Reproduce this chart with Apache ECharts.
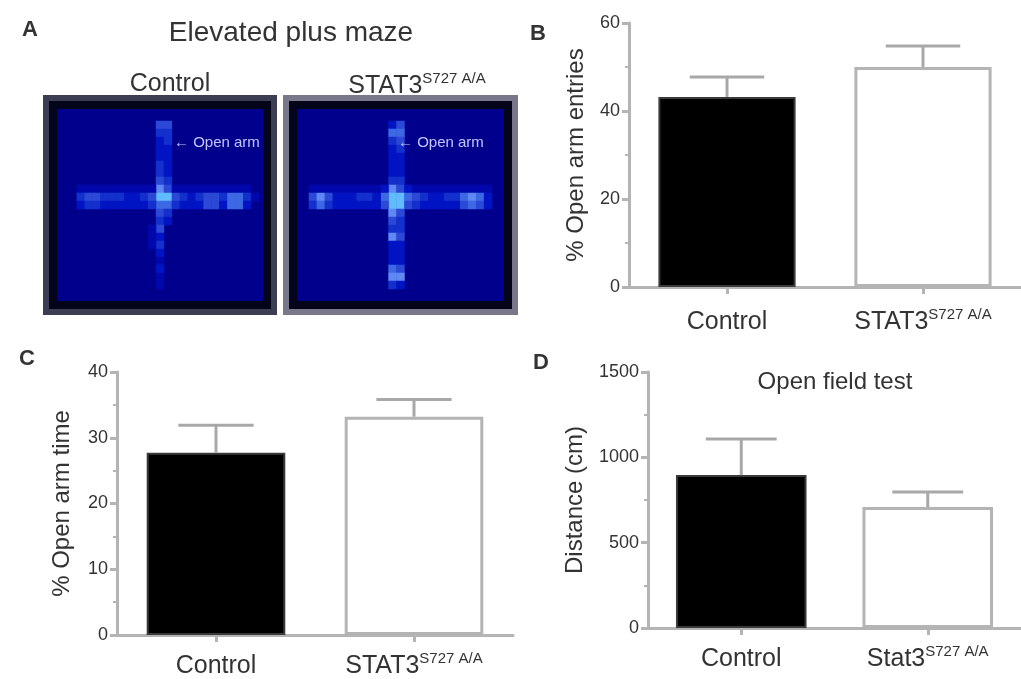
<!DOCTYPE html>
<html>
<head>
<meta charset="utf-8">
<script src="https://cdn.jsdelivr.net/npm/echarts@6/dist/echarts.min.js"></script>
<style>
  html, body { margin: 0; padding: 0; background: #ffffff; }
  #chart { width: 1021px; height: 679px; }
</style>
</head>
<body>
<div id="chart"></div>
<script>
// ---- Group labels ----
const groups = ['Control', 'STAT3'];
const groupsD = ['Control', 'Stat3'];
const mutantSup = 'S727 A/A';

// ---- B: % open arm entries (mean, SEM) ----
const openArmEntries = [43.2, 50.0];
const openArmEntriesSem = [4.5, 4.8];
const ticksB = { min: 0, max: 60, step: 20 };

// ---- C: % open arm time (mean, SEM) ----
const openArmTime = [27.7, 33.2];
const openArmTimeSem = [4.2, 2.6];
const ticksC = { min: 0, max: 40, step: 10 };

// ---- D: open field distance (mean, SEM) ----
const distance = [896, 709];
const distanceSem = [211, 88];
const ticksD = { min: 0, max: 1500, step: 500 };

// ---- A: plus-maze occupancy heat maps, [column, row, level] (unlisted cells = 0) ----
const mazeGridCols = 27;
const mazeGridRows = 25;
const mazeControl = [
  [13,2,4],[14,2,4],[13,3,3],[14,3,3],[13,4,2],[14,4,3],[13,5,2],[14,5,2],
  [13,6,2],[14,6,2],[13,7,3],[14,7,2],[13,8,3],[14,8,2],[13,9,4],[14,9,3],
  [13,10,6],[14,10,4],[13,11,7],[14,11,7],[13,12,5],[14,12,5],[13,13,4],[14,13,3],
  [13,14,3],[14,14,2],[13,15,4],[12,15,1],[13,16,2],[12,16,1],[13,17,3],[12,17,1],
  [13,18,2],[13,19,1],[13,20,2],[13,21,1],[13,22,1],
  // west arm
  [3,10,1],[4,10,1],[5,10,1],[6,10,1],[7,10,1],[8,10,1],[9,10,1],[10,10,1],[11,10,1],[12,10,1],
  [3,11,3],[4,11,4],[5,11,4],[6,11,3],[7,11,3],[8,11,3],[9,11,2],[10,11,2],[11,11,3],[12,11,4],
  [3,12,2],[4,12,3],[5,12,3],[6,12,2],[7,12,2],[8,12,2],[9,12,2],[10,12,2],[11,12,2],[12,12,3],
  // east arm
  [15,10,1],[16,10,1],[17,10,1],[18,10,1],[19,10,1],[20,10,1],[21,10,1],[22,10,1],[23,10,1],[24,10,1],
  [15,11,4],[16,11,3],[17,11,2],[18,11,3],[19,11,4],[20,11,4],[21,11,3],[22,11,5],[23,11,5],[24,11,3],[25,11,1],
  [15,12,3],[16,12,2],[17,12,2],[18,12,2],[19,12,4],[20,12,4],[21,12,2],[22,12,5],[23,12,5],[24,12,2]
];
const mazeMutant = [
  [12,2,2],[13,2,4],[12,3,5],[13,3,5],[12,4,3],[13,4,4],[12,5,2],[13,5,3],
  [12,6,2],[13,6,2],[12,7,2],[13,7,2],[12,8,2],[13,8,2],[12,9,3],[13,9,3],
  [12,10,6],[13,10,4],[11,10,2],[14,10,2],
  [12,11,7],[13,11,7],[11,11,5],[14,11,5],
  [12,12,7],[13,12,7],[11,12,4],[14,12,4],
  [12,13,6],[13,13,4],[12,14,4],[13,14,3],[12,15,3],[13,15,3],[12,16,6],[13,16,4],
  [12,17,2],[13,17,2],[12,18,2],[13,18,2],[12,19,2],[13,19,2],[12,20,5],[13,20,4],
  [12,21,6],[13,21,6],[12,22,3],[13,22,2],
  // west arm
  [2,10,1],[3,10,1],[4,10,1],[5,10,1],[6,10,1],[7,10,1],[8,10,1],[9,10,1],[10,10,1],
  [2,11,4],[3,11,6],[4,11,4],[5,11,2],[6,11,2],[7,11,2],[8,11,3],[9,11,3],[10,11,2],
  [2,12,3],[3,12,5],[4,12,3],[5,12,2],[6,12,2],[7,12,2],[8,12,2],[9,12,2],[10,12,2],
  // east arm
  [15,10,1],[16,10,1],[17,10,1],[18,10,1],[19,10,1],[20,10,1],[21,10,1],[22,10,1],[23,10,1],[24,10,1],
  [15,11,4],[16,11,3],[17,11,2],[18,11,2],[19,11,3],[20,11,3],[21,11,5],[22,11,6],[23,11,5],[24,11,2],
  [15,12,3],[16,12,2],[17,12,2],[18,12,2],[19,12,2],[20,12,2],[21,12,4],[22,12,5],[23,12,4],[24,12,2]
];
const heatColors = ['#00008c', '#0008ac', '#0014c4', '#1430cc', '#2c48d6', '#3c68e4', '#6088f4', '#60bcff', '#b0e0ff'];

const FONT = "'Liberation Sans', Arial, Helvetica, sans-serif";
const INK = '#333333';
const AXIS = '#b4b4b4';

const mazeCols = Array.from({ length: mazeGridCols }, (_, i) => String(i));
const mazeRows = Array.from({ length: mazeGridRows }, (_, i) => String(i));

const labelRich = {
  m: { fontSize: 25, color: INK, fontFamily: FONT, lineHeight: 30 },
  s: { fontSize: 15, color: INK, fontFamily: FONT, lineHeight: 10, verticalAlign: 'top' }
};
function groupLabel(v) {
  return v === 'Control' ? '{m|Control}' : '{m|' + v + '}{s|' + mutantSup + '}';
}

function barXAxis(gridIndex, cats, margin) {
  return {
    gridIndex, type: 'category', data: cats,
    axisLine: { show: true, lineStyle: { color: AXIS, width: 3 } },
    axisTick: { show: true, alignWithLabel: true, length: 7, lineStyle: { color: AXIS, width: 3 } },
    axisLabel: { show: true, margin, formatter: groupLabel, rich: labelRich },
    splitLine: { show: false }
  };
}
function barYAxis(gridIndex, t, name, nameGap) {
  return {
    gridIndex, type: 'value', min: t.min, max: t.max, interval: t.step,
    name, nameLocation: 'middle', nameGap,
    nameTextStyle: { fontSize: 24, color: INK, fontFamily: FONT },
    axisLine: { show: true, lineStyle: { color: AXIS, width: 3 } },
    axisTick: { show: true, length: 7, lineStyle: { color: AXIS, width: 3 } },
    minorTick: { show: true, splitNumber: 2, length: 4, lineStyle: { color: AXIS, width: 2 } },
    axisLabel: { fontSize: 18, color: INK, fontFamily: FONT, margin: 9, formatter: (v) => String(v) },
    splitLine: { show: false }
  };
}
function barSeries(axisIndex, values) {
  return {
    type: 'bar', xAxisIndex: axisIndex, yAxisIndex: axisIndex, barWidth: '70%',
    data: values.map((v, i) => ({
      value: v,
      itemStyle: i === 0
        ? { color: '#000000', borderColor: '#3a3a3a', borderWidth: 2 }
        : { color: '#ffffff', borderColor: '#b4b4b4', borderWidth: 3 }
    })),
    z: 2
  };
}
function errorItem(params, api) {
  const x = api.value(0), mean = api.value(1), sem = api.value(2);
  const base = api.coord([x, mean]);
  const top = api.coord([x, mean + sem]);
  const half = api.size([1, 0])[0] * 0.19;
  const st = { stroke: '#a8a8a8', lineWidth: 3 };
  return {
    type: 'group',
    children: [
      { type: 'line', shape: { x1: base[0], y1: base[1], x2: top[0], y2: top[1] }, style: st },
      { type: 'line', shape: { x1: top[0] - half, y1: top[1], x2: top[0] + half, y2: top[1] }, style: st }
    ]
  };
}
function errorSeries(axisIndex, means, sems) {
  return {
    type: 'custom', xAxisIndex: axisIndex, yAxisIndex: axisIndex,
    renderItem: errorItem, encode: { x: 0, y: 1 },
    data: means.map((m, i) => [i, m, sems[i]]), z: 3
  };
}
function heatSeries(axisIndex, cells) {
  return {
    type: 'heatmap', xAxisIndex: axisIndex, yAxisIndex: axisIndex,
    data: cells, itemStyle: { borderWidth: 0 }, emphasis: { disabled: true }, z: 2
  };
}
function txt(x, y, text, size, extra) {
  return {
    type: 'text', x, y, z: 10,
    style: Object.assign({
      text, fontSize: size, fontFamily: FONT, fill: INK,
      align: 'center', verticalAlign: 'middle', textAlign: 'center', textVerticalAlign: 'middle'
    }, extra || {})
  };
}

const chart = echarts.init(document.getElementById('chart'), null, { renderer: 'canvas' });
const option = {
  animation: false,
  backgroundColor: '#ffffff',
  textStyle: { fontFamily: FONT },
  grid: [
    { left: 46, top: 98, width: 228, height: 214, show: true, backgroundColor: 'transparent', borderColor: '#3c3c52', borderWidth: 6, outerBoundsMode: 'none' },
    { left: 286, top: 98, width: 229, height: 214, show: true, backgroundColor: 'transparent', borderColor: '#78788a', borderWidth: 6, outerBoundsMode: 'none' },
    { left: 53, top: 105, width: 214, height: 200, show: true, backgroundColor: '#00008c', borderColor: '#04041a', borderWidth: 8, outerBoundsMode: 'none' },
    { left: 293, top: 105, width: 215, height: 200, show: true, backgroundColor: '#00008c', borderColor: '#04041a', borderWidth: 8, outerBoundsMode: 'none' },
    { left: 629, top: 23, width: 392, height: 264, outerBoundsMode: 'none' },
    { left: 117, top: 372, width: 396, height: 263, outerBoundsMode: 'none' },
    { left: 648, top: 372, width: 373, height: 256, outerBoundsMode: 'none' }
  ],
  xAxis: [
    { gridIndex: 2, type: 'category', data: mazeCols, show: false },
    { gridIndex: 3, type: 'category', data: mazeCols, show: false },
    barXAxis(4, groups, 20),
    barXAxis(5, groups, 16),
    barXAxis(6, groupsD, 16)
  ],
  yAxis: [
    { gridIndex: 2, type: 'category', data: mazeRows, show: false, inverse: true },
    { gridIndex: 3, type: 'category', data: mazeRows, show: false, inverse: true },
    barYAxis(4, ticksB, '% Open arm entries', 41),
    barYAxis(5, ticksC, '% Open arm time', 43),
    barYAxis(6, ticksD, 'Distance (cm)', 61)
  ],
  visualMap: {
    show: false, seriesIndex: [0, 1], min: 0, max: heatColors.length - 1,
    inRange: { color: heatColors }
  },
  series: [
    heatSeries(0, mazeControl),
    heatSeries(1, mazeMutant),
    barSeries(2, openArmEntries),
    errorSeries(2, openArmEntries, openArmEntriesSem),
    barSeries(3, openArmTime),
    errorSeries(3, openArmTime, openArmTimeSem),
    barSeries(4, distance),
    errorSeries(4, distance, distanceSem)
  ],
  graphic: [
    txt(30, 30, 'A', 22, { fontWeight: 'bold' }),
    txt(291, 33, 'Elevated plus maze', 28),
    txt(170, 84, 'Control', 25),
    txt(417, 86, '{m|STAT3}{s|' + mutantSup + '}', 25, { rich: labelRich }),
    txt(174, 143, '← Open arm', 15, { fill: '#c4c4ff', align: 'left', textAlign: 'left' }),
    txt(398, 143, '← Open arm', 15, { fill: '#c4c4ff', align: 'left', textAlign: 'left' }),
    txt(538, 34, 'B', 22, { fontWeight: 'bold' }),
    txt(27, 359, 'C', 22, { fontWeight: 'bold' }),
    txt(541, 363, 'D', 22, { fontWeight: 'bold' }),
    txt(835, 382, 'Open field test', 24)
  ]
};
chart.setOption(option);
</script>
</body>
</html>
